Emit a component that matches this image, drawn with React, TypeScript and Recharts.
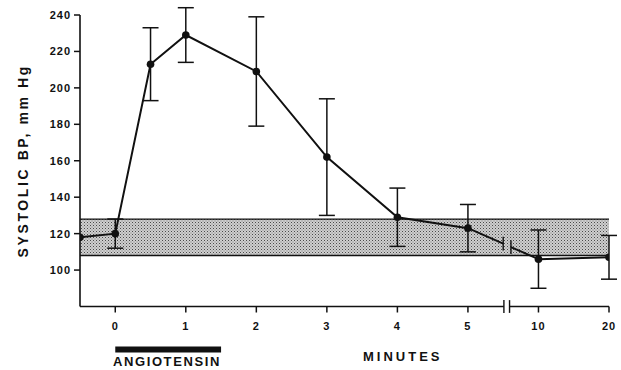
import { LineChart, Line, XAxis, YAxis, ErrorBar, ReferenceArea, ReferenceLine } from "recharts";

// systolic BP before, during and after angiotensin infusion
const minutes = [-0.5, 0, 0.5, 1, 2, 3, 4, 5, 10, 20];
const systolic = [118, 120, 213, 229, 209, 162, 129, 123, 106, 107];
const sem = [0, 8, 20, 15, 30, 32, 16, 13, 16, 12];

const tickMinutes = [0, 1, 2, 3, 4, 5, 10, 20];
const yTicks = [100, 120, 140, 160, 180, 200, 220, 240];
const normalBand = [108, 128];
const infusion = [0, 1.5];

// broken time axis: 0-5 min linear, then 10 and 20 min one step each
const toPos = (m: number) => (m <= 5 ? m : tickMinutes.indexOf(m));
const AXIS_BREAK = [5.51, 5.59];
const LINE_BREAK = [5.5, 5.61];

const data = minutes.map((m, i) => ({
  pos: toPos(m),
  sbp: systolic[i],
  err: sem[i],
  early: m <= 5 ? systolic[i] : null,
  late: m > 5 ? systolic[i] : null,
}));

const lastEarly = data.filter((d) => d.early !== null).slice(-1)[0];
const firstLate = data.filter((d) => d.late !== null)[0];
const yAt = (p: number) =>
  lastEarly.sbp + ((firstLate.sbp - lastEarly.sbp) * (p - lastEarly.pos)) / (firstLate.pos - lastEarly.pos);

const font = "'Liberation Sans', Arial, sans-serif";
const tickStyle = { fontFamily: font, fontSize: 11, fontWeight: 700, fill: "#111", letterSpacing: 1 };

const App = () => {
  return (
    <div style={{ position: "absolute", left: 0, top: 0, width: 621, height: 370, background: "#fff" }}>
      <LineChart width={621} height={370} data={data} margin={{ top: 15, right: 12, bottom: 33.5, left: 0 }}>
        <defs>
          <pattern id="stipple" width="3" height="3" patternUnits="userSpaceOnUse">
            <rect width="3" height="3" fill="#cfcfcf" />
            <rect width="1" height="1" fill="#4a4a4a" />
            <rect x="1.5" y="1.5" width="1" height="1" fill="#7a7a7a" />
          </pattern>
        </defs>
        <ReferenceArea
          x1={-0.5}
          x2={7}
          y1={normalBand[0]}
          y2={normalBand[1]}
          fill="url(#stipple)"
          fillOpacity={1}
          stroke="none"
        />
        <ReferenceLine y={normalBand[0]} stroke="#111" strokeWidth={1.3} />
        <ReferenceLine y={normalBand[1]} stroke="#111" strokeWidth={1.3} />
        <XAxis
          type="number"
          dataKey="pos"
          domain={[-0.5, 7]}
          ticks={tickMinutes.map(toPos)}
          tickFormatter={(v: number) => String(tickMinutes[v])}
          height={30}
          axisLine={false}
          tickLine={{ stroke: "#111", strokeWidth: 1.5 }}
          tickSize={6}
          tickMargin={10}
          tick={tickStyle}
          allowDataOverflow
        />
        <YAxis
          type="number"
          domain={[80, 240]}
          ticks={yTicks}
          width={80}
          axisLine={{ stroke: "#111", strokeWidth: 1.6 }}
          tickLine={{ stroke: "#111", strokeWidth: 1.5 }}
          tickSize={6}
          tickMargin={3}
          tick={tickStyle}
          allowDataOverflow
          label={{
            value: "SYSTOLIC BP, mm Hg",
            angle: -90,
            position: "insideLeft",
            offset: 23,
            style: { textAnchor: "middle", fontFamily: font, fontSize: 14, fontWeight: 700, fill: "#111", letterSpacing: 2.6 },
          }}
        />
        {/* x axis line with a break between 5 and 10 min */}
        <ReferenceLine segment={[{ x: -0.5, y: 80 }, { x: AXIS_BREAK[0], y: 80 }]} stroke="#111" strokeWidth={1.6} ifOverflow="visible" />
        <ReferenceLine segment={[{ x: AXIS_BREAK[1], y: 80 }, { x: 7, y: 80 }]} stroke="#111" strokeWidth={1.6} ifOverflow="visible" />
        {AXIS_BREAK.map((b) => (
          <ReferenceLine key={`ab${b}`} segment={[{ x: b, y: 76.5 }, { x: b, y: 83.5 }]} stroke="#111" strokeWidth={1.4} ifOverflow="visible" />
        ))}
        {/* connector from 5 to 10 min, interrupted at the break */}
        <ReferenceLine
          segment={[{ x: lastEarly.pos, y: lastEarly.sbp }, { x: LINE_BREAK[0], y: yAt(LINE_BREAK[0]) }]}
          stroke="#111"
          strokeWidth={2}
          ifOverflow="visible"
        />
        <ReferenceLine
          segment={[{ x: LINE_BREAK[1], y: yAt(LINE_BREAK[1]) }, { x: firstLate.pos, y: firstLate.sbp }]}
          stroke="#111"
          strokeWidth={2}
          ifOverflow="visible"
        />
        {LINE_BREAK.map((b) => (
          <ReferenceLine
            key={`lb${b}`}
            segment={[{ x: b, y: yAt(b) - 3.8 }, { x: b, y: yAt(b) + 3.8 }]}
            stroke="#111"
            strokeWidth={1.4}
            ifOverflow="visible"
          />
        ))}
        {/* angiotensin infusion bar */}
        <ReferenceLine
          segment={[{ x: infusion[0], y: 56.4 }, { x: infusion[1], y: 56.4 }]}
          stroke="#111"
          strokeWidth={6}
          ifOverflow="visible"
        />
        <Line dataKey="early" stroke="#111" strokeWidth={2} dot={false} isAnimationActive={false} />
        <Line dataKey="late" stroke="#111" strokeWidth={2} dot={false} isAnimationActive={false} />
        <Line
          dataKey="sbp"
          stroke="none"
          dot={{ r: 3.8, fill: "#111", stroke: "#111", strokeWidth: 0 }}
          isAnimationActive={false}
        >
          <ErrorBar dataKey="err" width={8} stroke="#111" strokeWidth={1.5} direction="y" />
        </Line>
      </LineChart>
      <div
        style={{
          position: "absolute",
          left: 113,
          top: 355,
          fontFamily: font,
          fontSize: 13,
          fontWeight: 700,
          letterSpacing: 1.6,
          color: "#111",
          lineHeight: "14px",
          whiteSpace: "nowrap",
        }}
      >
        ANGIOTENSIN
      </div>
      <div
        style={{
          position: "absolute",
          left: 363,
          top: 350,
          fontFamily: font,
          fontSize: 13,
          fontWeight: 700,
          letterSpacing: 3,
          color: "#111",
          lineHeight: "14px",
          whiteSpace: "nowrap",
        }}
      >
        MINUTES
      </div>
    </div>
  );
};

export default App;
